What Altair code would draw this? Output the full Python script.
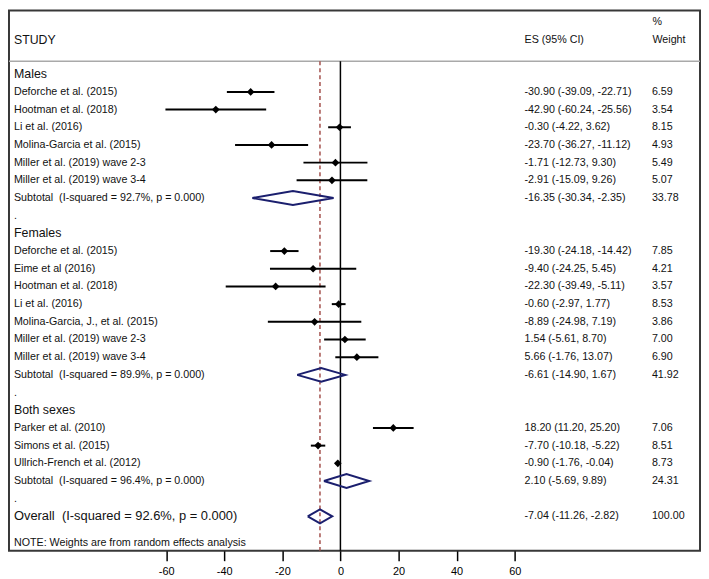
import altair as alt
import pandas as pd

FONT = "Liberation Sans"

# ---------------- data ----------------
group_names = ["Males", "Females", "Both sexes"]

male_studies = ["Deforche et al. (2015)", "Hootman et al. (2018)", "Li et al. (2016)",
                "Molina-Garcia et al. (2015)", "Miller et al. (2019) wave 2-3",
                "Miller et al. (2019) wave 3-4"]
male_es = [-30.90, -42.90, -0.30, -23.70, -1.71, -2.91]
male_lo = [-39.09, -60.24, -4.22, -36.27, -12.73, -15.09]
male_hi = [-22.71, -25.56, 3.62, -11.12, 9.30, 9.26]
male_wt = [6.59, 3.54, 8.15, 4.93, 5.49, 5.07]

female_studies = ["Deforche et al. (2015)", "Eime et al (2016)", "Hootman et al. (2018)",
                  "Li et al. (2016)", "Molina-Garcia, J., et al. (2015)",
                  "Miller et al. (2019) wave 2-3", "Miller et al. (2019) wave 3-4"]
female_es = [-19.30, -9.40, -22.30, -0.60, -8.89, 1.54, 5.66]
female_lo = [-24.18, -24.25, -39.49, -2.97, -24.98, -5.61, -1.76]
female_hi = [-14.42, 5.45, -5.11, 1.77, 7.19, 8.70, 13.07]
female_wt = [7.85, 4.21, 3.57, 8.53, 3.86, 7.00, 6.90]

both_studies = ["Parker et al. (2010)", "Simons et al. (2015)", "Ullrich-French et al. (2012)"]
both_es = [18.20, -7.70, -0.90]
both_lo = [11.20, -10.18, -1.76]
both_hi = [25.20, -5.22, -0.04]
both_wt = [7.06, 8.51, 8.73]

sub_es = [-16.35, -6.61, 2.10]
sub_lo = [-30.34, -14.90, -5.69]
sub_hi = [-2.35, 1.67, 9.89]
sub_wt = [33.78, 41.92, 24.31]
sub_i2 = ["92.7%", "89.9%", "96.4%"]

overall = [-7.04, -11.26, -2.82, 100.00]
overall_i2 = "92.6%"

x_ticks = [-60, -40, -20, 0, 20, 40, 60]

# ---------------- table built from the arrays ----------------
groups = [
    (male_studies, male_es, male_lo, male_hi, male_wt),
    (female_studies, female_es, female_lo, female_hi, female_wt),
    (both_studies, both_es, both_lo, both_hi, both_wt),
]

rows = []
r = 0
for gi, (names, es, lo, hi, wt) in enumerate(groups):
    rows.append(dict(row=r, label=group_names[gi], kind="group"))
    r += 1
    for n, e, l, h, w in zip(names, es, lo, hi, wt):
        rows.append(dict(row=r, label=n, kind="study", es=e, lo=l, hi=h,
                         estxt=f"{e:.2f} ({l:.2f}, {h:.2f})", wtxt=f"{w:.2f}"))
        r += 1
    e, l, h, w = sub_es[gi], sub_lo[gi], sub_hi[gi], sub_wt[gi]
    rows.append(dict(row=r, label=f"Subtotal\u00a0 (I-squared = {sub_i2[gi]}, p = 0.000)",
                     kind="sub", es=e, lo=l, hi=h,
                     estxt=f"{e:.2f} ({l:.2f}, {h:.2f})", wtxt=f"{w:.2f}"))
    r += 1
    rows.append(dict(row=r, label=".", kind="blank"))
    r += 1
e, l, h, w = overall
rows.append(dict(row=r, label=f"Overall\u00a0 (I-squared = {overall_i2}, p = 0.000)",
                 kind="overall", es=e, lo=l, hi=h,
                 estxt=f"{e:.2f} ({l:.2f}, {h:.2f})", wtxt=f"{w:.2f}"))
overall_row = r
note_row = r + 1.5
df = pd.DataFrame(rows)

# diamonds for pooled estimates
HH = 0.39
dia = []
for _, rw in df[df.kind.isin(["sub", "overall"])].iterrows():
    pts = [(rw.lo, rw.row), (rw.es, rw.row - HH), (rw.hi, rw.row),
           (rw.es, rw.row + HH), (rw.lo, rw.row)]
    for k, (xx, yy) in enumerate(pts):
        dia.append(dict(id=int(rw.row), o=k, x=xx, y=yy))
dia = pd.DataFrame(dia)

# ---------------- scales ----------------
W, H = 697, 545
X0 = 334.3      # pixel of x = 0
PX = 2.93       # pixels per unit
xs = alt.Scale(domain=[-X0 / PX, (W - X0) / PX], nice=False, zero=False)
R0 = 64.3       # pixel of row 0
PR = 17.84      # pixels per row
ys = alt.Scale(domain=[-R0 / PR, (H - R0) / PR], nice=False, zero=False, reverse=True)
xaxis = alt.Axis(values=x_ticks, tickSize=10, tickWidth=1.5, tickColor="black",
                 domain=False, grid=False, labelFont=FONT, labelFontSize=11,
                 labelColor="black", labelPadding=5, title=None, labelFlush=False,
                 labelExpr="'' + datum.value")


def X(f, **kw):
    return alt.X(f, type="quantitative", scale=xs, axis=xaxis, **kw)


def Y(f):
    return alt.Y(f, type="quantitative", scale=ys, axis=None)


sep_row = -0.73
lines = pd.DataFrame(dict(x=[0.0, overall[0]], y1=[sep_row, sep_row], y2=[ys.domain[1]] * 2,
                          kind=["zero", "overall"]))

base = alt.Chart(df)

header_rule = alt.Chart(pd.DataFrame(dict(y=[sep_row]))).mark_rule(
    color="#a9a9a9", strokeWidth=1.5).encode(x=alt.value(0), x2=alt.value(W), y=Y("y"))

zero_rule = alt.Chart(lines).transform_filter("datum.kind == 'zero'").mark_rule(
    color="black", strokeWidth=1.5).encode(x=X("x"), y=Y("y1"), y2=alt.Y2("y2"))

ov_rule = alt.Chart(lines).transform_filter("datum.kind == 'overall'").mark_rule(
    color="#a3504c", strokeWidth=1.5, strokeDash=[4, 3]).encode(x=X("x"), y=Y("y1"), y2=alt.Y2("y2"))

ci = base.transform_filter("datum.kind == 'study'").mark_rule(
    color="black", strokeWidth=2).encode(x=X("lo"), x2=alt.X2("hi"), y=Y("row"))

pts = base.transform_filter("datum.kind == 'study'").mark_point(
    shape="diamond", filled=True, size=60, color="black", opacity=1).encode(x=X("es"), y=Y("row"))

diamonds = alt.Chart(dia).mark_line(color="#1b1f6e", strokeWidth=2).encode(
    x=X("x"), y=Y("y"), order="o:Q", detail="id:N")


def txt(filt, size, xpos, field):
    return base.transform_filter(filt).mark_text(
        align="left", baseline="middle", font=FONT, fontSize=size, color="#111111"
    ).encode(x=alt.value(xpos), y=Y("row"), text=alt.Text(field, type="nominal"))


LX = 5
t_group = txt("datum.kind == 'group'", 12.5, LX, "label")
t_study = txt("datum.kind == 'study' || datum.kind == 'sub' || datum.kind == 'blank'", 10.8, LX, "label")
t_over = txt("datum.kind == 'overall'", 13, LX, "label")
t_es = txt("isValid(datum.estxt)", 10.8, 520, "estxt")
t_wt = txt("isValid(datum.wtxt)", 10.8, 648.5, "wtxt")

hdr = pd.DataFrame(dict(
    row=[-1.94, -1.94, -2.96, -1.94, note_row],
    label=["STUDY", "ES (95% CI)", "%", "Weight", "NOTE: Weights are from random effects analysis"],
    xp=[LX, 520, 649, 649, LX],
    fs=[12.4, 10.8, 10.8, 10.8, 10.8],
))
hdr_layers = []
for _, hr in hdr.iterrows():
    hdr_layers.append(
        alt.Chart(pd.DataFrame([hr])).mark_text(
            align="left", baseline="middle", font=FONT, fontSize=float(hr.fs), color="#111111"
        ).encode(x=alt.value(float(hr.xp)), y=Y("row"), text="label:N")
    )

chart = alt.layer(
    header_rule, ov_rule, zero_rule, ci, pts, diamonds,
    t_group, t_study, t_over, t_es, t_wt, *hdr_layers
).properties(width=W, height=H, padding=0, background="white").configure_view(
    stroke="#383838", strokeWidth=2
)

chart.save("out.html", embed_options={"renderer": "svg", "actions": False})
